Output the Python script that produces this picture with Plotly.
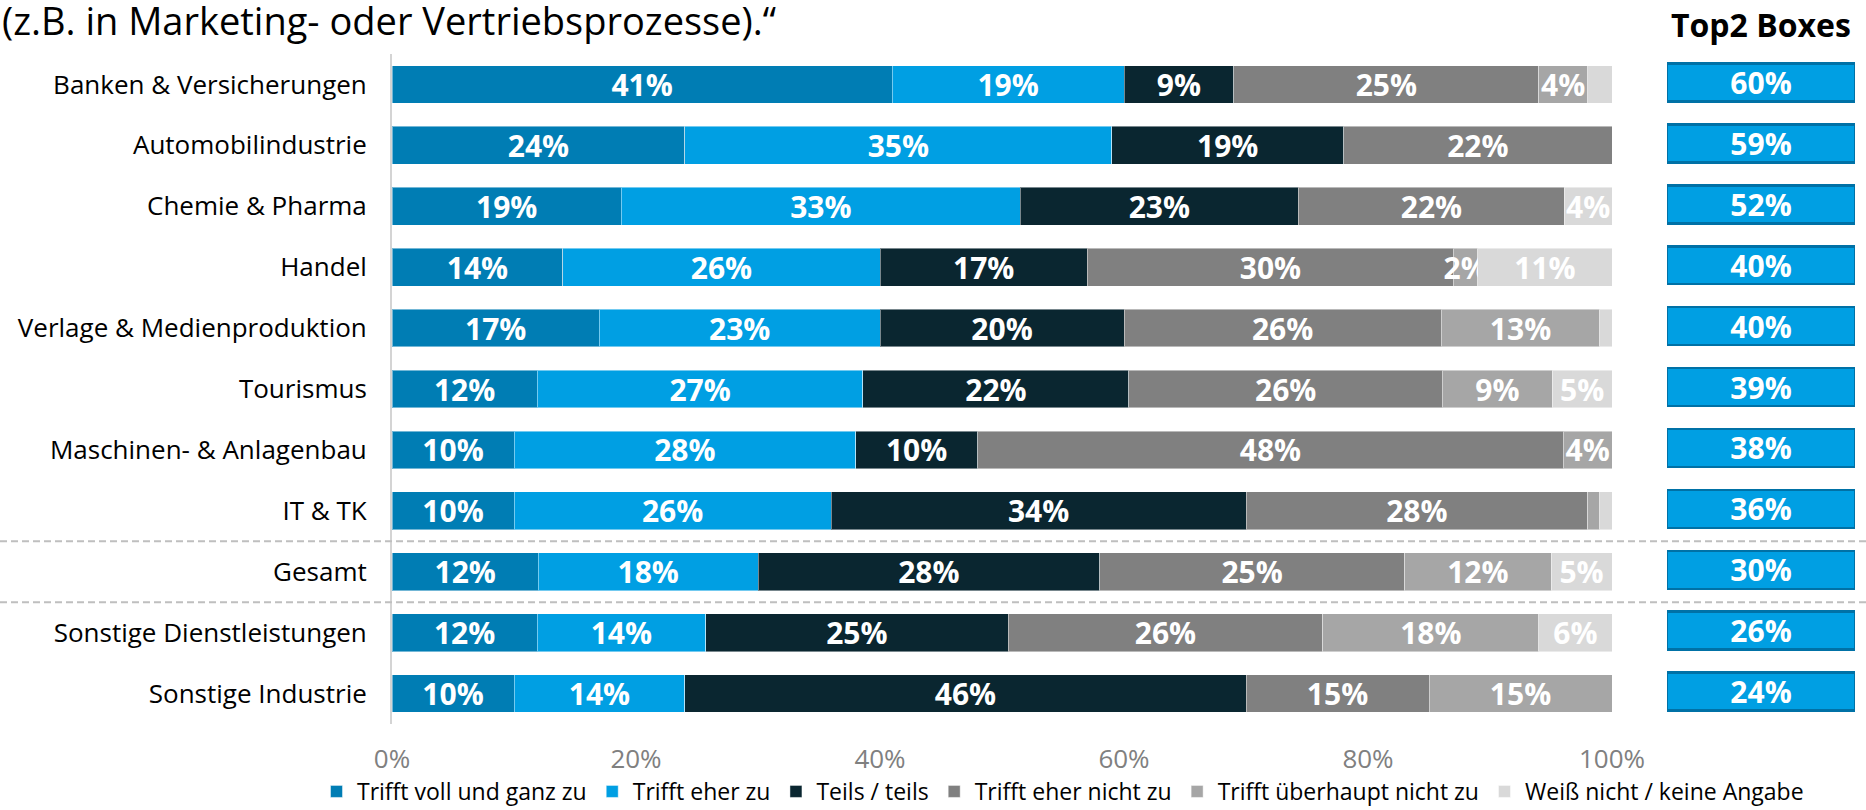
import plotly.graph_objects as go

categories = [
    "Banken & Versicherungen", "Automobilindustrie", "Chemie & Pharma", "Handel",
    "Verlage & Medienproduktion", "Tourismus", "Maschinen- & Anlagenbau", "IT & TK",
    "Gesamt", "Sonstige Dienstleistungen", "Sonstige Industrie",
]
series_names = [
    "Trifft voll und ganz zu", "Trifft eher zu", "Teils / teils",
    "Trifft eher nicht zu", "Trifft überhaupt nicht zu", "Weiß nicht / keine Angabe",
]
voll = [41, 24, 18.8, 14, 17, 11.9, 10, 10, 12, 11.9, 10]
eher = [19, 35, 32.7, 26, 23, 26.7, 28, 26, 18, 13.8, 14]
teils = [9, 19, 22.8, 17, 20, 21.8, 10, 34, 28, 24.8, 46]
eher_nicht = [25, 22, 21.8, 30, 26, 25.7, 48, 28, 25, 25.8, 15]
ueberhaupt_nicht = [4, 0, 0, 2, 13, 9.0, 4, 1, 12, 17.7, 15]
weiss_nicht = [2, 0, 3.9, 11, 1, 4.9, 0, 1, 5, 6.0, 0]
top2 = [60, 59, 52, 40, 40, 39, 38, 36, 30, 26, 24]
x_ticks = [0, 20, 40, 60, 80, 100]

series_values = [voll, eher, teils, eher_nicht, ueberhaupt_nicht, weiss_nicht]
colors = ["#007DB4", "#009FE3", "#0A2630", "#808080", "#A6A6A6", "#D9D9D9"]
min_label = [2, 2, 2, 2, 2, 3]

FONT = "Open Sans, Noto Sans, sans-serif"
W, H = 1866, 810
ML, MR, MT, MB = 392, 8, 54, 86
PW = W - ML - MR
PH = H - MT - MB


def px_x(p):
    return (p - ML) / PW


def px_y(p):
    return (H - MB - p) / PH


fig = go.Figure()
for name, vals, col, th in zip(series_names, series_values, colors, min_label):
    fig.add_trace(go.Bar(
        name=name, y=categories, x=vals, orientation="h",
        marker=dict(color=col, line=dict(color="rgba(255,255,255,0.45)", width=1)),
        text=[f"{v:.0f}%" if round(v) >= th else "" for v in vals],
        textposition="inside", insidetextanchor="middle", textangle=0,
        constraintext="none",
        textfont=dict(family=FONT, size=30, color="white", weight="bold"),
        width=0.62, hoverinfo="name+x",
    ))

fig.add_trace(go.Bar(
    y=categories, x=[1] * len(top2), orientation="h", xaxis="x2", yaxis="y",
    marker=dict(color="#009FE3", line=dict(color="#0071A6", width=2.5)),
    text=[f"{v}%" for v in top2], textposition="inside", insidetextanchor="middle",
    textangle=0, constraintext="none",
    textfont=dict(family=FONT, size=30, color="white", weight="bold"),
    width=0.623, offset=-0.343, showlegend=False, hoverinfo="text",
))

shapes = []
for yb in [7.5, 8.5]:
    shapes.append(dict(type="line", xref="paper", yref="y", x0=px_x(0), x1=px_x(W),
                       y0=yb, y1=yb, line=dict(color="#BFBFBF", width=2, dash="7px,4px"),
                       layer="above"))

fig.update_layout(
    width=W, height=H, barmode="stack",
    margin=dict(l=ML, r=MR, t=MT, b=MB, autoexpand=False),
    paper_bgcolor="white", plot_bgcolor="white",
    font=dict(family=FONT, color="black"),
    xaxis=dict(domain=[0, px_x(1612)], range=[0, 100], tickvals=x_ticks,
               ticktext=[f"{t}%" for t in x_ticks], showgrid=False, zeroline=False,
               showline=False, tickfont=dict(size=26, color="#808080"),
               ticklabelstandoff=17, fixedrange=True, automargin=False),
    xaxis2=dict(domain=[px_x(1667), px_x(1855)], range=[0, 1], visible=False,
                fixedrange=True),
    yaxis=dict(autorange="reversed", showgrid=False, zeroline=False, showline=True,
               linecolor="#D4D4D4", linewidth=2, tickfont=dict(size=26, color="black"),
               ticklabelstandoff=18, fixedrange=True, automargin=False),
    legend=dict(orientation="h", x=px_x(316), xanchor="left", y=px_y(813),
                yanchor="bottom", font=dict(size=23, color="black"), itemwidth=31,
                traceorder="normal", bgcolor="rgba(0,0,0,0)"),
    shapes=shapes,
    annotations=[
        dict(text="(z.B. in Marketing- oder Vertriebsprozesse).\u201c", xref="paper",
             yref="paper", x=px_x(0), y=px_y(48), xanchor="left", yanchor="bottom",
             showarrow=False, font=dict(size=38, color="black")),
        dict(text="<b>Top2 Boxes</b>", xref="paper", yref="paper", x=px_x(1761),
             y=px_y(24), xanchor="center", yanchor="middle", showarrow=False,
             font=dict(size=32, color="black")),
    ],
)

fig.write_html("out.html", config={"displayModeBar": False},
               post_script="document.body.style.margin='0';")
